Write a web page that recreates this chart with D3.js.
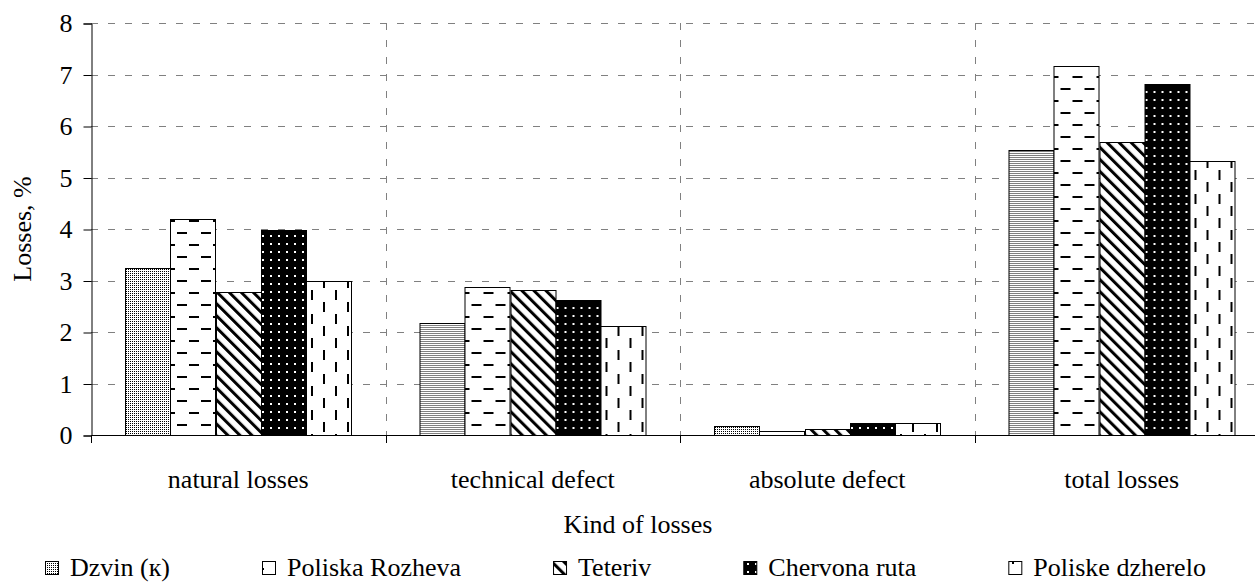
<!DOCTYPE html>
<html>
<head>
<meta charset="utf-8">
<script src="https://cdn.jsdelivr.net/npm/d3@7"></script>
<style>
  body { margin: 0; background: #fff; }
  text { font-family: "Liberation Serif", "Times New Roman", serif; fill: #000; }
</style>
</head>
<body>
<div id="chart"></div>
<script>
// data
const categories = ["natural losses", "technical defect", "absolute defect", "total losses"];
const varieties = ["Dzvin (к)", "Poliska Rozheva", "Teteriv", "Chervona ruta", "Poliske dzherelo"];
const dzvin      = [3.24, 2.17, 0.17, 5.53];
const rozheva    = [4.19, 2.88, 0.08, 7.17];
const teteriv    = [2.78, 2.82, 0.12, 5.68];
const chervona   = [3.98, 2.62, 0.23, 6.82];
const dzherelo   = [3.00, 2.12, 0.23, 5.33];
const seriesValues = [dzvin, rozheva, teteriv, chervona, dzherelo];
const yTicks = [0, 1, 2, 3, 4, 5, 6, 7, 8];

const W = 1255, H = 582;
const plotLeft = 91, plotRight = 1269, plotTop = 23, plotBottom = 435;

var svg = d3.select("#chart").append("svg")
  .attr("width", W).attr("height", H);

// fill patterns
var defs = svg.append("defs");
function pat(id, w, h, bg) {
  var p = defs.append("pattern").attr("id", id)
    .attr("patternUnits", "userSpaceOnUse")
    .attr("width", w).attr("height", h);
  p.append("rect").attr("width", w).attr("height", h).attr("fill", bg);
  return p;
}
var p0 = pat("p0", 2, 2, "#fff");
p0.append("rect").attr("x", 1).attr("y", 1).attr("width", 1).attr("height", 1).attr("fill", "#000");

var p1 = pat("p1", 24, 24, "#fff");
p1.append("rect").attr("x", 2).attr("y", 4).attr("width", 10).attr("height", 2).attr("fill", "#000");
p1.append("rect").attr("x", 14).attr("y", 16).attr("width", 10).attr("height", 2).attr("fill", "#000");

var p2 = pat("p2", 8.5, 8.5, "#fff").attr("patternTransform", "rotate(-45)");
p2.append("rect").attr("x", 0).attr("y", 0).attr("width", 3).attr("height", 8.5).attr("fill", "#000");

var p3 = pat("p3", 8, 8, "#000");
p3.append("rect").attr("x", 3).attr("y", 3).attr("width", 2).attr("height", 2).attr("fill", "#fff");

var p4 = pat("p4", 24, 24, "#fff");
p4.append("rect").attr("x", 4).attr("y", 2).attr("width", 2).attr("height", 10).attr("fill", "#000");
p4.append("rect").attr("x", 16).attr("y", 14).attr("width", 2).attr("height", 10).attr("fill", "#000");

const fills = ["url(#p0)", "url(#p1)", "url(#p2)", "url(#p3)", "url(#p4)"];

// scales
var x = d3.scaleBand().domain(categories).range([plotLeft, plotRight]).padding(0);
var x1 = d3.scaleBand().domain(varieties).range([0, x.bandwidth()])
  .paddingInner(0).paddingOuter(0.75);
var y = d3.scaleLinear().domain([0, 8]).range([plotBottom, plotTop]);

// grid
var grid = svg.append("g").attr("stroke", "#808080").attr("stroke-dasharray", "7,10");
grid.selectAll("line.h")
  .data(yTicks.filter(d => d > 0))
  .enter().append("line")
  .attr("x1", plotLeft).attr("x2", W)
  .attr("y1", d => Math.round(y(d)) + 0.5)
  .attr("y2", d => Math.round(y(d)) + 0.5);
grid.selectAll("line.v")
  .data(categories.slice(1))
  .enter().append("line")
  .attr("x1", d => Math.round(x(d)) + 0.5)
  .attr("x2", d => Math.round(x(d)) + 0.5)
  .attr("y1", y(8)).attr("y2", plotBottom);

// bars
var groups = svg.append("g").selectAll("g")
  .data(categories)
  .enter().append("g")
  .attr("transform", d => "translate(" + x(d) + ",0)");

groups.selectAll("rect")
  .data((c, ci) => varieties.map((v, vi) => ({v: v, vi: vi, val: seriesValues[vi][ci]})))
  .enter().append("rect")
  .attr("x", d => Math.round(x1(d.v)) + 0.5)
  .attr("y", d => Math.round(y(d.val)) + 0.5)
  .attr("width", Math.round(x1.bandwidth()))
  .attr("height", d => Math.round(y(0)) - Math.round(y(d.val)))
  .attr("fill", d => fills[d.vi])
  .attr("stroke", "#000")
  .attr("stroke-width", 1);

// y axis
var yAxis = svg.append("g")
  .attr("transform", "translate(" + (plotLeft + 0.5) + ",0.5)")
  .call(d3.axisLeft(y).tickValues(yTicks).tickFormat(d3.format("d")).tickSize(8).tickPadding(11));
yAxis.select(".domain").attr("stroke", "#000");
yAxis.selectAll(".tick line").attr("stroke", "#000");
yAxis.selectAll("text").style("font-size", "26px").attr("font-family", null);

// x axis: line, boundary ticks, category labels
svg.append("line")
  .attr("x1", plotLeft).attr("x2", W)
  .attr("y1", plotBottom + 0.5).attr("y2", plotBottom + 0.5)
  .attr("stroke", "#000");
svg.append("g").selectAll("line")
  .data(categories)
  .enter().append("line")
  .attr("x1", d => Math.round(x(d)) + 0.5)
  .attr("x2", d => Math.round(x(d)) + 0.5)
  .attr("y1", plotBottom).attr("y2", plotBottom + 8)
  .attr("stroke", "#000");
svg.append("g").selectAll("text")
  .data(categories)
  .enter().append("text")
  .attr("x", d => x(d) + x.bandwidth() / 2)
  .attr("y", 488)
  .attr("text-anchor", "middle")
  .style("font-size", "26px")
  .text(d => d);

// axis titles
svg.append("text")
  .attr("x", 638).attr("y", 533)
  .attr("text-anchor", "middle")
  .style("font-size", "26px")
  .text("Kind of losses");
svg.append("text")
  .attr("transform", "translate(31," + ((plotTop + plotBottom) / 2) + ") rotate(-90)")
  .attr("text-anchor", "middle")
  .style("font-size", "26px")
  .text("Losses, %");

// legend
var lx = 45;
varieties.forEach(function(v, i) {
  var g = svg.append("g");
  g.append("rect")
    .attr("x", lx + 0.5).attr("y", 561.5)
    .attr("width", 13).attr("height", 13)
    .attr("fill", fills[i]).attr("stroke", "#000");
  var t = g.append("text")
    .attr("x", lx + 25).attr("y", 576)
    .style("font-size", "26px")
    .text(v);
  lx = lx + 25 + t.node().getComputedTextLength() + 92;
});
</script>
</body>
</html>
